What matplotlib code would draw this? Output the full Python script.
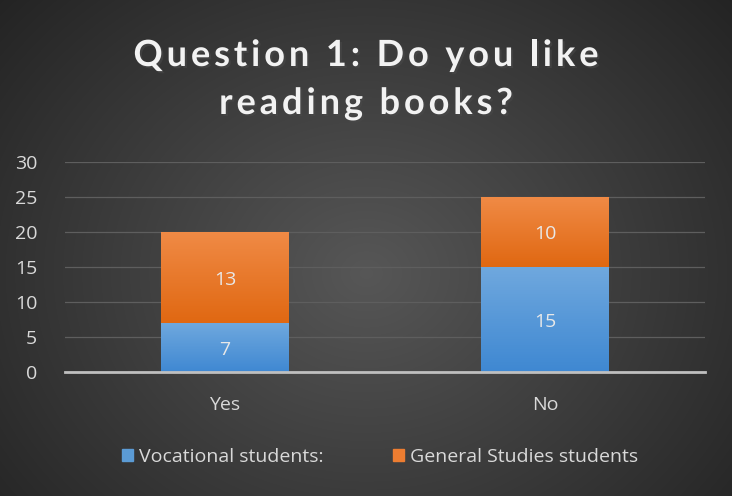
import numpy as np
import matplotlib
matplotlib.use("Agg")
import matplotlib.pyplot as plt
import matplotlib.patheffects as pe
from matplotlib.patches import Patch
from matplotlib.font_manager import FontProperties

categories = ["Yes", "No"]
vocational = [7, 15]
general = [13, 10]
series_names = ["Vocational students:", "General Studies students"]
title_lines = ["Question 1: Do you like", "reading books?"]
yticks = [0, 5, 10, 15, 20, 25, 30]

plt.rcParams["font.family"] = ["Open Sans", "DejaVu Sans"]

W, H = 732, 496
fig = plt.figure(figsize=(W / 100, H / 100), dpi=100)

# radial dark background
bg = fig.add_axes([0, 0, 1, 1], zorder=-10)
yy, xx = np.mgrid[0:H, 0:W]
r = np.sqrt(((xx - W * 0.5) / (W * 0.6)) ** 2 + ((yy - H * 0.55) / (H * 0.75)) ** 2)
v = np.clip(0.34 - 0.18 * r, 0.14, 0.34)
bg.imshow(np.dstack([v, v, v]), aspect="auto", extent=[0, 1, 0, 1], origin="upper")
bg.set_xlim(0, 1); bg.set_ylim(0, 1)
bg.axis("off")

ax = fig.add_axes([65 / W, 1 - 372 / H, 640 / W, 210 / H])
ax.patch.set_alpha(0)
x = np.arange(len(categories))
width = 0.4
b1 = ax.bar(x, vocational, width, color="#5b9bd5", label=series_names[0], zorder=3)
b2 = ax.bar(x, general, width, bottom=vocational, color="#ed7d31", label=series_names[1], zorder=3)

def gradient_fill(bars, top, bottom):
    top = np.array(matplotlib.colors.to_rgb(top))
    bottom = np.array(matplotlib.colors.to_rgb(bottom))
    t = np.linspace(0, 1, 64)[:, None]
    grad = (top * (1 - t) + bottom * t)[:, None, :]
    for p in bars:
        x0, y0 = p.get_x(), p.get_y()
        w, h = p.get_width(), p.get_height()
        im = ax.imshow(grad, extent=[x0, x0 + w, y0, y0 + h], aspect="auto",
                       origin="upper", zorder=3.5)
        im.set_clip_path(p)

gradient_fill(b1, "#6fa8de", "#3f88d2")
gradient_fill(b2, "#f08a45", "#e06812")

for bars, vals in ((b1, vocational), (b2, general)):
    for p, val in zip(bars, vals):
        ax.text(p.get_x() + p.get_width() / 2, p.get_y() + p.get_height() / 2 - 0.3,
                str(val), ha="center", va="center", color="#e8e8e8", fontsize=14, zorder=5)

ax.set_xlim(-0.5, 1.5)
ax.set_ylim(0, 30)
ax.set_yticks(yticks)
ax.set_xticks(x)
ax.set_xticklabels(categories)
ax.tick_params(axis="both", length=0, colors="#d9d9d9", labelsize=14)
ax.tick_params(axis="x", pad=17)
ax.tick_params(axis="y", pad=20)
for lab in ax.get_yticklabels():
    lab.set_horizontalalignment("right")
ax.grid(axis="y", color="#5e5e5e", linewidth=0.9, zorder=0)
for s in ["top", "right", "left"]:
    ax.spines[s].set_visible(False)
ax.spines["bottom"].set_color("#bfbfbf")
ax.spines["bottom"].set_linewidth(2)
ax.spines["bottom"].set_zorder(4)

# title with letter spacing, drawn glyph by glyph
renderer = fig.canvas.get_renderer()
tprop = FontProperties(family=["Lato", "DejaVu Sans"], weight="bold", size=26)

def advance(s):
    w_ref, _, _ = renderer.get_text_width_height_descent("II", tprop, ismath=False)
    w, _, _ = renderer.get_text_width_height_descent("I" + s + "I", tprop, ismath=False)
    return w - w_ref

first_widths = [advance(c) for c in title_lines[0]]
tracking = (465 - sum(first_widths)) / (len(title_lines[0]) - 1)
shadow = [pe.withSimplePatchShadow(offset=(1.5, -1.5), alpha=0.6)]
for line, base_y in zip(title_lines, (66, 114)):
    widths = [advance(c) for c in line]
    total = sum(widths) + tracking * (len(line) - 1)
    xpos = W / 2 - total / 2
    for c, w in zip(line, widths):
        if c != " ":
            fig.text(xpos / W, 1 - base_y / H, c, ha="left", va="baseline",
                     fontproperties=tprop, color="#f2f2f2", path_effects=shadow)
        xpos += w + tracking

handles = [Patch(color="#5b9bd5"), Patch(color="#ed7d31")]
fig.legend(handles, series_names, loc="center", bbox_to_anchor=(380 / W, 1 - 457 / H),
           ncol=2, frameon=False, fontsize=14, labelcolor="#d9d9d9",
           handlelength=0.55, handleheight=0.55, handletextpad=0.3, columnspacing=3.6)

fig.savefig("out.png", dpi=100)
